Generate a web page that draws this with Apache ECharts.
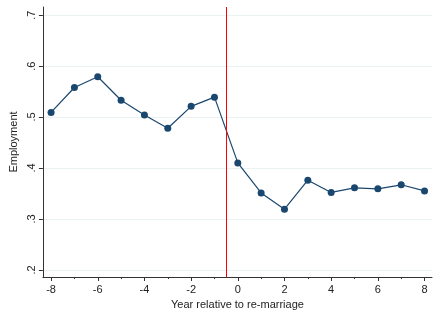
<!DOCTYPE html>
<html><head><meta charset="utf-8">
<script src="https://cdn.jsdelivr.net/npm/echarts@6/dist/echarts.min.js"></script>
<style>html,body{margin:0;padding:0;background:#fff}#c{width:440px;height:318px}</style>
</head><body><div id="c"></div>
<script>
const years = [-8,-7,-6,-5,-4,-3,-2,-1,0,1,2,3,4,5,6,7,8];
const employment = [0.509,0.558,0.579,0.533,0.504,0.478,0.521,0.539,0.410,0.351,0.319,0.376,0.352,0.361,0.359,0.367,0.355];
const xMajorTicks = [-8,-6,-4,-2,0,2,4,6,8];
const xMinorTicks = [-7,-5,-3,-1,1,3,5,7];
const yTicks = [0.2,0.3,0.4,0.5,0.6,0.7];
const eventLine = -0.5;

const font = 'Liberation Sans, Arial, sans-serif';
const chart = echarts.init(document.getElementById('c'));
chart.setOption({
  animation: false,
  backgroundColor: '#fff',
  grid: {left: 41, right: 8, top: 7, bottom: 41, containLabel: false},
  xAxis: [{
    type: 'value', min: -8.35, max: 8.32,
    name: 'Year relative to re-marriage', nameLocation: 'middle', nameGap: 17,
    nameTextStyle: {fontFamily: font, fontSize: 11, color: '#222'},
    axisLine: {show: true, onZero: false, lineStyle: {color: '#333', width: 1}},
    axisTick: {show: true, customValues: xMajorTicks, length: 4, lineStyle: {color: '#333'}},
    axisLabel: {customValues: xMajorTicks, margin: 7, fontFamily: font, fontSize: 11, color: '#222'},
    splitLine: {show: false}
  }, {
    type: 'value', min: -8.35, max: 8.32, position: 'bottom',
    axisLine: {show: false, onZero: false},
    axisTick: {show: true, customValues: xMinorTicks, length: 2, lineStyle: {color: '#333'}},
    axisLabel: {show: false},
    splitLine: {show: false}
  }],
  yAxis: {
    type: 'value', min: 0.186, max: 0.716,
    name: 'Employment', nameLocation: 'middle', nameGap: 21,
    nameTextStyle: {fontFamily: font, fontSize: 11, color: '#222'},
    axisLine: {show: true, onZero: false, lineStyle: {color: '#333', width: 1}},
    axisTick: {show: true, customValues: yTicks, length: 4, lineStyle: {color: '#333'}},
    axisLabel: {customValues: yTicks, rotate: 90, margin: 5, fontFamily: font, fontSize: 11, color: '#222',
      formatter: v => v.toFixed(1).replace(/^0/, '')},
    splitLine: {show: true, lineStyle: {color: '#eaf2f3', width: 1}}
  },
  series: [{
    type: 'line', xAxisIndex: 0,
    data: years.map((y, i) => [y, employment[i]]),
    symbol: 'circle', symbolSize: 7,
    lineStyle: {color: '#1a476f', width: 1.2},
    itemStyle: {color: '#1a476f'},
    markLine: {
      silent: true, symbol: 'none', label: {show: false},
      lineStyle: {color: '#ff0000', width: 1, type: 'solid'},
      data: [{xAxis: eventLine}]
    }
  }]
});
</script></body></html>
